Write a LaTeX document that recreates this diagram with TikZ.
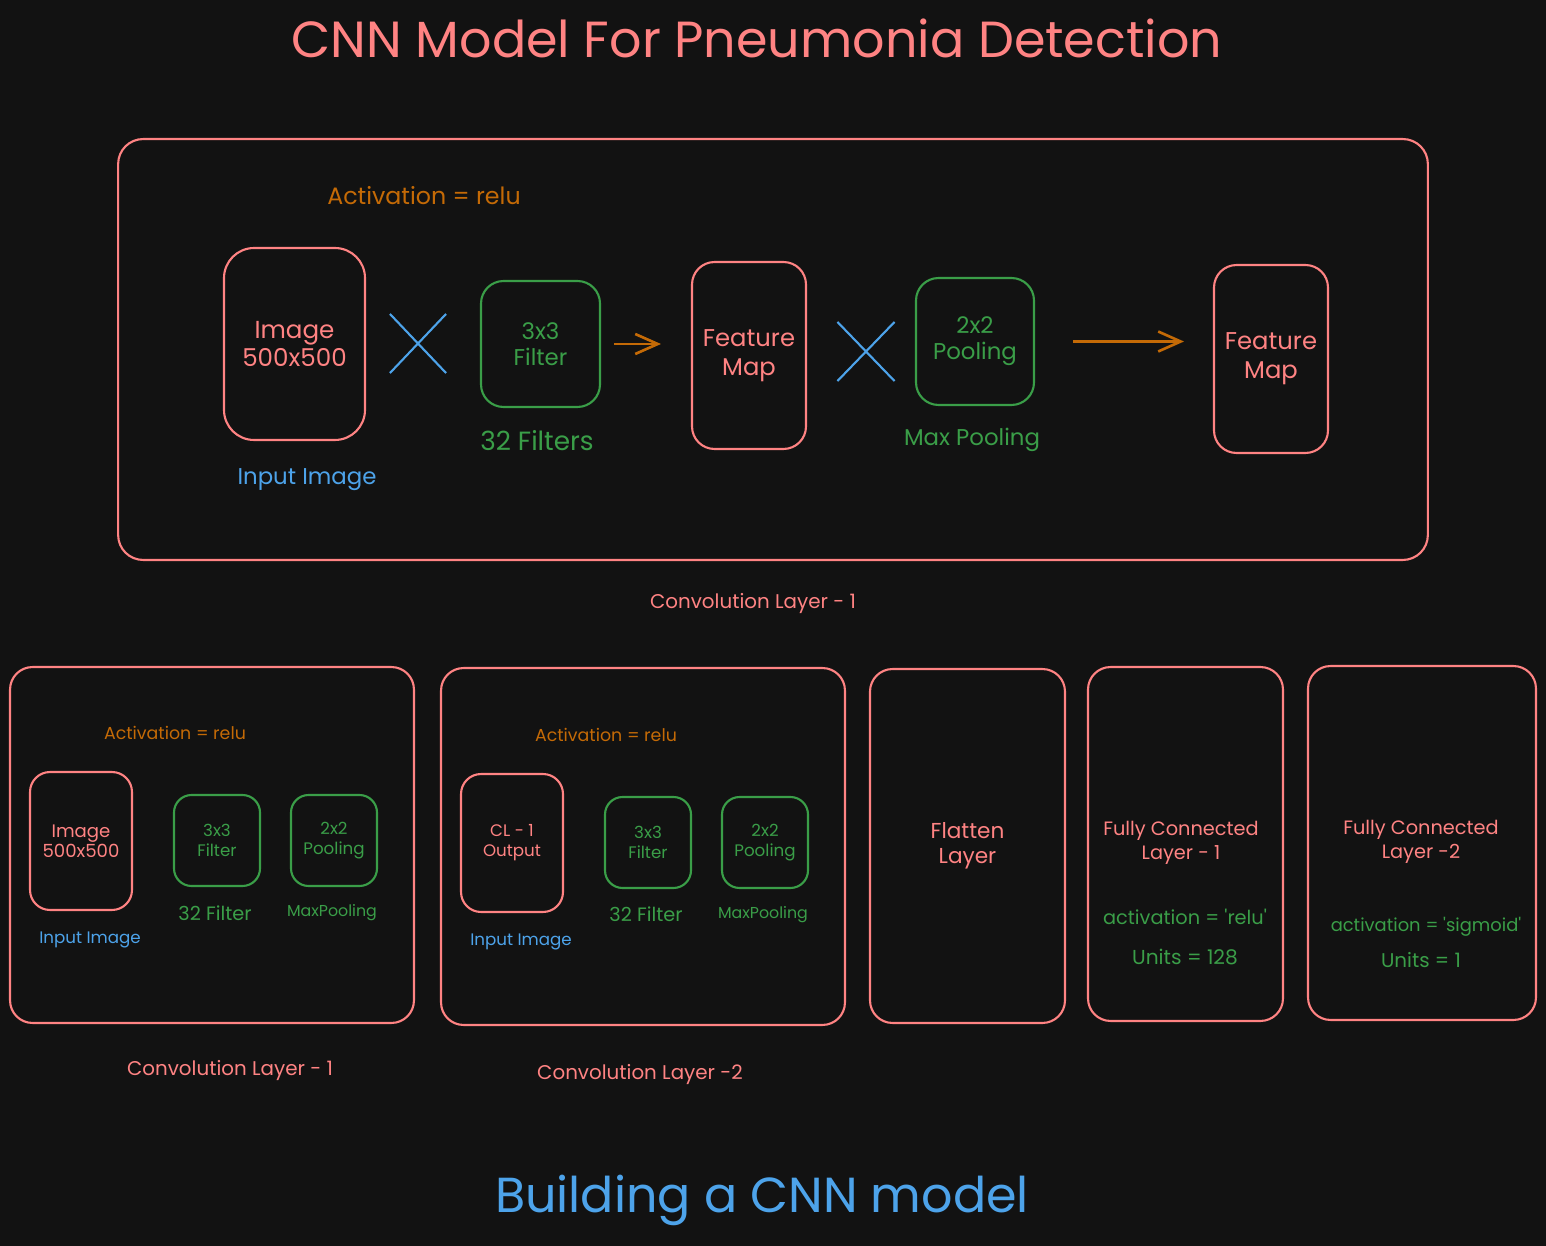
\documentclass[tikz,border=0pt]{standalone}
\usepackage{fontspec}
\setmainfont{Poppins}
\usetikzlibrary{arrows.meta,shapes.misc}

\definecolor{bgdark}{HTML}{121212}
\definecolor{sketchred}{HTML}{FF8383}
\definecolor{sketchgreen}{HTML}{3A9E48}
\definecolor{sketchblue}{HTML}{4DA3EA}
\definecolor{sketchorange}{HTML}{C46A06}

\newcommand{\fsz}[2]{\fontsize{#1pt}{#2pt}\selectfont}

\begin{document}
\begin{tikzpicture}[
  x=0.02cm, y=-0.02cm,
  box/.style={draw, line width=1.2pt, align=center, inner sep=0pt, rounded corners=0.45cm},
  redbox/.style={box, draw=sketchred, text=sketchred},
  greenbox/.style={box, draw=sketchgreen, text=sketchgreen},
  lbl/.style={inner sep=0pt, align=center},
  crossmark/.style={cross out, draw=sketchblue, line width=1.2pt, inner sep=0pt},
  flow/.style={draw=sketchorange, line width=1.5pt, -{Straight Barb[length=0.45cm, width=0.4cm]}}
]

  % Background
  \fill[bgdark] (0,0) rectangle (1546,1246);
  \useasboundingbox (0,0) rectangle (1546,1246);

  % Title
  \node[lbl, text=sketchred, font=\fsz{28.9}{32}] (title) at (757,38) {CNN Model For Pneumonia Detection};

  % ==================== CONVOLUTION LAYER (Top) ====================
  \node[redbox, minimum width=26.2cm, minimum height=8.42cm, rounded corners=0.5cm] (convtop) at (773,349.5) {};
  \node[lbl, text=sketchorange, font=\fsz{13.5}{15}] (acttop) at (424,196) {Activation = relu};

  \node[redbox, minimum width=2.82cm, minimum height=3.84cm, rounded corners=0.6cm, font=\fsz{14}{15.5}] (imgtop) at (294.5,344) {Image\\500x500};
  \node[crossmark, minimum width=1.08cm, minimum height=1.14cm] (multop) at (418,343.5) {};
  \node[greenbox, minimum width=2.38cm, minimum height=2.52cm, font=\fsz{13}{15}] (filttop) at (540.5,344) {3x3\\Filter};
  \node[lbl, text=sketchgreen, font=\fsz{15}{17}] (nfilttop) at (537,441) {32 Filters};
  \node[redbox, minimum width=2.28cm, minimum height=3.74cm, font=\fsz{13.8}{16.5}] (fmaptop) at (749,355.5) {Feature\\Map};
  \node[crossmark, minimum width=1.1cm, minimum height=1.14cm] (poolmul) at (866,351.5) {};
  \node[greenbox, minimum width=2.36cm, minimum height=2.54cm, font=\fsz{13}{15}] (pooltop) at (975,341.5) {2x2\\Pooling};
  \node[lbl, text=sketchgreen, font=\fsz{13}{15}] (npooltop) at (972,440) {Max Pooling};
  \node[redbox, minimum width=2.28cm, minimum height=3.76cm, font=\fsz{13.8}{16.5}] (fmapout) at (1271,359) {Feature\\Map};
  \node[lbl, text=sketchblue, font=\fsz{13}{15}] (intop) at (307,480) {Input Image};
  \node[lbl, text=sketchred, font=\fsz{11.3}{13}] (captop) at (753,604) {Convolution Layer - 1};

  \draw[flow, shorten <=0.26cm, shorten >=0.6cm] (filttop.east) -- (filttop.east -| fmaptop.west);
  \draw[flow, shorten <=0.76cm, shorten >=0.58cm] (pooltop.east) -- (pooltop.east -| fmapout.west);

  % ==================== CONVOLUTION LAYER - 1 (Bottom) ====================
  \node[redbox, minimum width=8.08cm, minimum height=7.12cm] (convone) at (212,845) {};
  \node[lbl, text=sketchorange, font=\fsz{9.9}{11}] (actone) at (175,733) {Activation = relu};
  \node[redbox, minimum width=2.04cm, minimum height=2.76cm, rounded corners=0.4cm, font=\fsz{10.3}{11.5}] (imgone) at (81,841) {Image\\500x500};
  \node[greenbox, minimum width=1.72cm, minimum height=1.82cm, rounded corners=0.35cm, font=\fsz{9.5}{11}] (filtone) at (217,840.5) {3x3\\Filter};
  \node[greenbox, minimum width=1.72cm, minimum height=1.82cm, rounded corners=0.35cm, font=\fsz{9.5}{11}] (poolone) at (334,840.5) {2x2\\Pooling};
  \node[lbl, text=sketchgreen, font=\fsz{11}{12}] (nfiltone) at (215,913) {32 Filter};
  \node[lbl, text=sketchgreen, font=\fsz{9}{10}] (npoolone) at (332,913) {MaxPooling};
  \node[lbl, text=sketchblue, font=\fsz{9.5}{11}] (inone) at (90,940) {Input Image};
  \node[lbl, text=sketchred, font=\fsz{11.3}{13}] (capone) at (230,1071) {Convolution Layer - 1};

  % ==================== CONVOLUTION LAYER - 2 ====================
  \node[redbox, minimum width=8.08cm, minimum height=7.14cm] (convtwo) at (643,846.5) {};
  \node[lbl, text=sketchorange, font=\fsz{9.9}{11}] (acttwo) at (606,735) {Activation = relu};
  \node[redbox, minimum width=2.04cm, minimum height=2.76cm, rounded corners=0.4cm, font=\fsz{9.5}{11.5}] (outtwo) at (512,843) {CL - 1\\Output};
  \node[greenbox, minimum width=1.72cm, minimum height=1.82cm, rounded corners=0.35cm, font=\fsz{9.5}{11}] (filttwo) at (648,842.5) {3x3\\Filter};
  \node[greenbox, minimum width=1.72cm, minimum height=1.82cm, rounded corners=0.35cm, font=\fsz{9.5}{11}] (pooltwo) at (765,842.5) {2x2\\Pooling};
  \node[lbl, text=sketchgreen, font=\fsz{11}{12}] (nfilttwo) at (646,914) {32 Filter};
  \node[lbl, text=sketchgreen, font=\fsz{9}{10}] (npooltwo) at (763,915) {MaxPooling};
  \node[lbl, text=sketchblue, font=\fsz{9.5}{11}] (intwo) at (521,942) {Input Image};
  \node[lbl, text=sketchred, font=\fsz{11.3}{13}] (captwo) at (640,1075) {Convolution Layer -2};

  % ==================== FLATTEN & DENSE ====================
  \node[redbox, minimum width=3.9cm, minimum height=7.08cm, font=\fsz{12.3}{14.5}] (flat) at (967.5,846) {Flatten\\Layer};
  \node[redbox, minimum width=3.9cm, minimum height=7.08cm] (fcone) at (1185.5,844) {};
  \node[lbl, text=sketchred, font=\fsz{11}{14}] (fconetxt) at (1181,843) {Fully Connected\\Layer - 1};
  \node[lbl, text=sketchgreen, font=\fsz{11}{12}] (fconeact) at (1185,917) {activation = \textquotesingle relu\textquotesingle};
  \node[lbl, text=sketchgreen, font=\fsz{11.5}{12}] (fconeunits) at (1185,957) {Units = 128};

  \node[redbox, minimum width=4.56cm, minimum height=7.08cm] (fctwo) at (1422,843) {};
  \node[lbl, text=sketchred, font=\fsz{11}{14}] (fctwotxt) at (1421,842) {Fully Connected\\Layer -2};
  \node[lbl, text=sketchgreen, font=\fsz{10.2}{12}] (fctwoact) at (1426,927) {activation = \textquotesingle sigmoid\textquotesingle};
  \node[lbl, text=sketchgreen, font=\fsz{11.3}{12}] (fctwounits) at (1421,960) {Units = 1};

  % Bottom title
  \node[lbl, text=sketchblue, font=\fsz{28}{32}] (subtitle) at (762,1200) {Building a CNN model};

\end{tikzpicture}
\end{document}
